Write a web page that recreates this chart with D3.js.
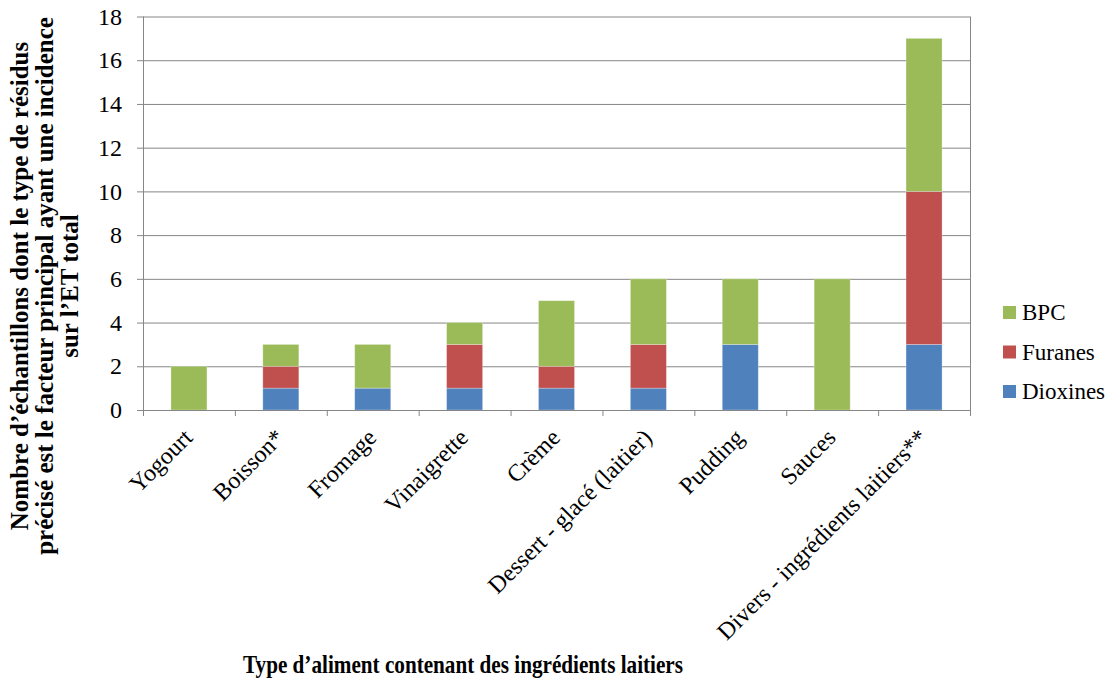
<!DOCTYPE html>
<html>
<head>
<meta charset="utf-8">
<script src="https://cdn.jsdelivr.net/npm/d3@7"></script>
<style>
  body { margin: 0; background: #fff; }
  svg text { font-family: "Liberation Serif", "Times New Roman", serif; fill: #000; }
</style>
</head>
<body>
<div id="chart"></div>
<script>
// Data
const categories = ["Yogourt", "Boisson*", "Fromage", "Vinaigrette", "Crème",
  "Dessert - glacé (laitier)", "Pudding", "Sauces", "Divers - ingrédients laitiers**"];
const dioxines = [0, 1, 1, 1, 1, 1, 3, 0, 3];
const furanes  = [0, 1, 0, 2, 1, 2, 0, 0, 7];
const bpc      = [2, 1, 2, 1, 3, 3, 3, 6, 7];
const seriesNames = ["Dioxines", "Furanes", "BPC"];
const yTicks = [0, 2, 4, 6, 8, 10, 12, 14, 16, 18];

const colors = {Dioxines: "#4F81BD", Furanes: "#C0504D", BPC: "#9BBB59"};

const W = 1116, H = 679;
const margin = {top: 16.5, right: 146, bottom: 269, left: 143};
const width = W - margin.left - margin.right;
const height = H - margin.top - margin.bottom;

const svg = d3.select("#chart").append("svg")
    .attr("width", W)
    .attr("height", H);

const g = svg.append("g")
    .attr("transform", `translate(${margin.left},${margin.top})`);

// Scales
const x = d3.scaleBand()
    .domain(categories)
    .range([0, width])
    .padding(0);

const y = d3.scaleLinear()
    .domain([0, 18])
    .range([height, 0]);

// Gridlines
g.append("g")
    .selectAll("line")
    .data(yTicks.filter(d => d > 0))
    .join("line")
    .attr("x1", 0)
    .attr("x2", width)
    .attr("y1", d => y(d) + 0.5)
    .attr("y2", d => y(d) + 0.5)
    .attr("stroke", "#868686")
    .attr("stroke-width", 1);

// Right border of plot
g.append("line")
    .attr("x1", width + 0.5).attr("x2", width + 0.5)
    .attr("y1", 0).attr("y2", height)
    .attr("stroke", "#868686");

// Stack the series
const rows = categories.map((c, i) => ({cat: c, Dioxines: dioxines[i], Furanes: furanes[i], BPC: bpc[i]}));
const stack = d3.stack().keys(seriesNames)(rows);

const barW = x.bandwidth() * 0.392;

g.append("g")
    .selectAll("g")
    .data(stack)
    .join("g")
    .attr("fill", d => colors[d.key])
    .selectAll("rect")
    .data(d => d.filter(s => s[1] > s[0]))
    .join("rect")
    .attr("x", d => x(d.data.cat) + (x.bandwidth() - barW) / 2)
    .attr("y", d => y(d[1]))
    .attr("width", barW)
    .attr("height", d => y(d[0]) - y(d[1]))
    .attr("stroke", "rgba(255,255,255,0.35)")
    .attr("stroke-width", 0.8);

// Y axis
const yAxis = g.append("g")
    .attr("font-family", null)
    .call(d3.axisLeft(y).tickValues(yTicks).tickSize(6).tickPadding(15));
yAxis.select(".domain").attr("stroke", "#868686").attr("d", `M0.5,0V${height}`);
yAxis.selectAll(".tick line").attr("stroke", "#868686");
yAxis.selectAll(".tick text")
    .style("font-size", "24px")
    .style("font-family", "'Liberation Serif', serif");

// X axis (ticks at category boundaries)
const xg = g.append("g").attr("transform", `translate(0,${height})`);
xg.append("line")
    .attr("x1", 0).attr("x2", width)
    .attr("y1", 0.5).attr("y2", 0.5)
    .attr("stroke", "#868686");
xg.selectAll(".xtick")
    .data(d3.range(categories.length + 1))
    .join("line")
    .attr("class", "xtick")
    .attr("x1", i => i * x.step() + 0.5)
    .attr("x2", i => i * x.step() + 0.5)
    .attr("y1", 0)
    .attr("y2", 6)
    .attr("stroke", "#868686");

xg.selectAll(".xlabel")
    .data(categories)
    .join("text")
    .attr("class", "xlabel")
    .attr("transform", d => `translate(${x(d) + x.bandwidth() / 2 + 5},${29}) rotate(-45)`)
    .attr("text-anchor", "end")
    .style("font-size", "24px")
    .text(d => d);

// X axis title
svg.append("text")
    .attr("x", 463)
    .attr("y", 673)
    .attr("text-anchor", "middle")
    .style("font-size", "26px")
    .style("font-weight", "bold")
    .attr("textLength", 440)
    .attr("lengthAdjust", "spacingAndGlyphs")
    .text("Type d’aliment contenant des ingrédients laitiers");

// Y axis title
const yTitle = ["Nombre d’échantillons dont le type de résidus",
  "précisé est le facteur principal ayant une incidence",
  "sur l’ET total"];
svg.append("g")
    .attr("transform", "translate(28,286) rotate(-90)")
    .selectAll("text")
    .data(yTitle)
    .join("text")
    .attr("x", 0)
    .attr("y", (d, i) => i * 25)
    .attr("text-anchor", "middle")
    .style("font-size", "25px")
    .style("font-weight", "bold")
    .text(d => d);

// Legend (BPC on top)
const legend = svg.append("g")
    .selectAll("g")
    .data(seriesNames.slice().reverse())
    .join("g")
    .attr("transform", (d, i) => `translate(1003,${306 + i * 39.5})`);
legend.append("rect")
    .attr("width", 13)
    .attr("height", 13)
    .attr("fill", d => colors[d]);
legend.append("text")
    .attr("x", 19)
    .attr("y", 14)
    .style("font-size", "23px")
    .text(d => d);
</script>
</body>
</html>
